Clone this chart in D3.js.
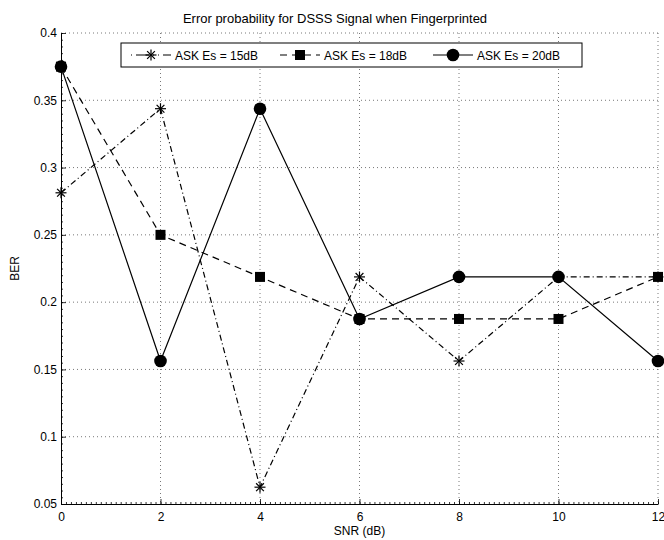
<!DOCTYPE html>
<html>
<head>
<meta charset="utf-8">
<script src="https://cdn.jsdelivr.net/npm/d3@7"></script>
<style>
body { margin:0; background:#fff; }
text { font-family: "Liberation Sans", Arial, sans-serif; fill:#000; }
.grid line { stroke:#555; stroke-width:0.8; stroke-dasharray:1,3; }
</style>
</head>
<body>
<script>
var snr = [0, 2, 4, 6, 8, 10, 12]
var ber15 = [0.28125, 0.34375, 0.0625, 0.21875, 0.15625, 0.21875, 0.21875]
var ber18 = [0.375, 0.25, 0.21875, 0.1875, 0.1875, 0.1875, 0.21875]
var ber20 = [0.375, 0.15625, 0.34375, 0.1875, 0.21875, 0.21875, 0.15625]
var seriesNames = ["ASK Es = 15dB", "ASK Es = 18dB", "ASK Es = 20dB"]
var xTicks = [0, 2, 4, 6, 8, 10, 12]
var yTicks = [0.05, 0.1, 0.15, 0.2, 0.25, 0.3, 0.35, 0.4]

var width = 664, height = 540
var margin = {left:61, right:6, top:33, bottom:36}
var w = width - margin.left - margin.right
var h = height - margin.top - margin.bottom

var svg = d3.select("body").append("svg").attr("width", width).attr("height", height)
var g = svg.append("g").attr("transform","translate("+margin.left+","+margin.top+")")

var x = d3.scaleLinear().domain([0,12]).range([0,w])
var y = d3.scaleLinear().domain([0.05,0.4]).range([h,0])

//GRID
var grid = g.append("g").attr("class","grid")
grid.selectAll("line.v").data(xTicks.slice(1)).enter().append("line")
    .attr("x1", function(d){return x(d)}).attr("x2", function(d){return x(d)})
    .attr("y1", 0).attr("y2", h)
grid.selectAll("line.h").data(yTicks.slice(1)).enter().append("line")
    .attr("x1", 0).attr("x2", w)
    .attr("y1", function(d){return y(d)}).attr("y2", function(d){return y(d)})

//AXES
var xAxis = d3.axisBottom(x).tickValues(xTicks).tickSizeInner(-5).tickSizeOuter(0).tickPadding(8).tickFormat(d3.format("d"))
var yAxis = d3.axisLeft(y).tickValues(yTicks).tickSizeInner(-5).tickSizeOuter(0).tickPadding(4).tickFormat(function(d){return +d.toFixed(2)})
var xMinor = d3.axisBottom(x).tickValues(d3.range(0,12.001,0.1)).tickSize(-2).tickFormat("")
var yMinor = d3.axisLeft(y).tickValues(d3.range(0.05,0.4001,0.005)).tickSize(-2).tickFormat("")

g.append("g").attr("transform","translate(0,"+h+")").call(xMinor).call(function(s){s.select(".domain").remove()})
g.append("g").call(yMinor).call(function(s){s.select(".domain").remove()})
var gx = g.append("g").attr("transform","translate(0,"+h+")").call(xAxis)
var gy = g.append("g").call(yAxis)
g.selectAll(".tick line").attr("stroke","#000").attr("stroke-width",0.8)
g.selectAll(".domain").attr("stroke","#000").attr("stroke-width",1)
g.selectAll(".tick text").style("font-size","12px")

//TITLES
svg.append("text").attr("x", 335).attr("y", 23).attr("text-anchor","middle")
    .style("font-size","13px").text("Error probability for DSSS Signal when Fingerprinted")
svg.append("text").attr("x", margin.left + w/2).attr("y", 535).attr("text-anchor","middle")
    .style("font-size","12px").text("SNR (dB)")
svg.append("text").attr("transform","translate(19,"+(margin.top+h/2)+") rotate(-90)")
    .attr("text-anchor","middle").style("font-size","12px").text("BER")

var series = [
  {name:seriesNames[0], vals:ber15, dash:"6,3,1,3", marker:"star"},
  {name:seriesNames[1], vals:ber18, dash:"7,5", marker:"square"},
  {name:seriesNames[2], vals:ber20, dash:null, marker:"circle"}
]

function drawMarker(sel, type, cx, cy) {
  if (type == "circle") {
    sel.append("circle").attr("cx",cx).attr("cy",cy).attr("r",6.3).attr("fill","#000")
  } else if (type == "square") {
    sel.append("rect").attr("x",cx-5).attr("y",cy-5).attr("width",10).attr("height",10).attr("fill","#000")
  } else {
    var r = 5.5
    for (var a = 0; a < 4; a++) {
      var ang = a*Math.PI/4
      sel.append("line").attr("x1",cx-r*Math.cos(ang)).attr("y1",cy-r*Math.sin(ang))
         .attr("x2",cx+r*Math.cos(ang)).attr("y2",cy+r*Math.sin(ang))
         .attr("stroke","#000").attr("stroke-width",1.2)
    }
  }
}

var line = d3.line().x(function(d,i){return x(snr[i])}).y(function(d){return y(d)})
series.forEach(function(s){
  g.append("path").datum(s.vals).attr("d", line).attr("fill","none")
    .attr("stroke","#000").attr("stroke-width",1.2).attr("stroke-dasharray", s.dash)
  var mg = g.append("g")
  s.vals.forEach(function(v,i){ drawMarker(mg, s.marker, x(snr[i]), y(v)) })
})

//LEGEND
var leg = svg.append("g")
leg.append("rect").attr("x",121).attr("y",43).attr("width",461).attr("height",24)
   .attr("fill","#fff").attr("stroke","#000").attr("stroke-width",1)
var legX = [131, 280, 433]
series.forEach(function(s,i){
  var lx = legX[i], ly = 55
  leg.append("line").attr("x1",lx).attr("x2",lx+40).attr("y1",ly).attr("y2",ly)
     .attr("stroke","#000").attr("stroke-width",1.2).attr("stroke-dasharray", s.dash ? (i==0 ? "1,4,13,4,1,4" : "7,5") : null)
  drawMarker(leg, s.marker, lx+20, ly)
  leg.append("text").attr("x", lx+44).attr("y", ly+4.5).style("font-size","12px").text(s.name)
})
</script>
</body>
</html>
